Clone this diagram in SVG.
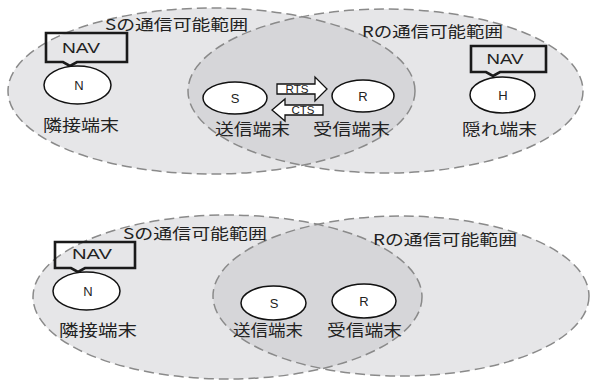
<svg xmlns="http://www.w3.org/2000/svg" width="591" height="381" viewBox="0 0 591 381">
<style>
.rng{fill:#e6e6e8;stroke:none}
.ovl{fill:#d6d6d9;stroke:none}
.dash{fill:none;stroke:#8a8a8a;stroke-width:1.5;stroke-dasharray:10 5}
.nd{fill:#fff;stroke:#111;stroke-width:1.5}
.nav{fill:none;stroke:#1a1a1a;stroke-width:2.6;stroke-linejoin:miter}
.arr{fill:#fff;stroke:#111;stroke-width:1.3}
.jp{font-family:"Noto Sans CJK JP","Noto Sans CJK SC",sans-serif;fill:#222}
.lt{font-family:"Liberation Sans",Arial,sans-serif;fill:#222;text-anchor:middle}
.rl{font-size:15px}
.nl{font-size:16px}
.ln{font-size:13px}
.nv{font-size:14px}
.sm{font-size:10.5px}
</style>
<defs>
<clipPath id="clipRt"><ellipse cx="385.5" cy="91" rx="197.5" ry="82"/></clipPath>
<clipPath id="clipRb"><ellipse cx="401" cy="296" rx="188" ry="80"/></clipPath>
</defs>

<!-- top diagram ranges -->
<g id="range-S-top">
<ellipse class="rng" cx="211.5" cy="91" rx="203.5" ry="83"/>
</g>
<g id="range-R-top">
<ellipse class="rng" cx="385.5" cy="91" rx="197.5" ry="82"/>
<ellipse class="ovl" cx="211.5" cy="91" rx="203.5" ry="83" clip-path="url(#clipRt)"/>
<ellipse class="dash" cx="211.5" cy="91" rx="203.5" ry="83"/>
<ellipse class="dash" cx="385.5" cy="91" rx="197.5" ry="82"/>
<text class="jp rl" x="105" y="30" textLength="143" lengthAdjust="spacingAndGlyphs">Sの通信可能範囲</text>
<text class="jp rl" x="362" y="37" textLength="141" lengthAdjust="spacingAndGlyphs">Rの通信可能範囲</text>
</g>

<!-- bottom diagram ranges -->
<g id="range-S-bottom">
<ellipse class="rng" cx="227.5" cy="297" rx="194.5" ry="82"/>
</g>
<g id="range-R-bottom">
<ellipse class="rng" cx="401" cy="296" rx="188" ry="80"/>
<ellipse class="ovl" cx="227.5" cy="297" rx="194.5" ry="82" clip-path="url(#clipRb)"/>
<ellipse class="dash" cx="227.5" cy="297" rx="194.5" ry="82"/>
<ellipse class="dash" cx="401" cy="296" rx="188" ry="80"/>
<text class="jp rl" x="123" y="239" textLength="144" lengthAdjust="spacingAndGlyphs">Sの通信可能範囲</text>
<text class="jp rl" x="373" y="245" textLength="144" lengthAdjust="spacingAndGlyphs">Rの通信可能範囲</text>
</g>

<!-- top nodes -->
<g id="node-N-top">
<path class="nav" d="M46,33 H127 V62 H77 L70,66 L63,62 H46 Z"/>
<text class="lt nv" x="81" y="53" textLength="38" lengthAdjust="spacingAndGlyphs">NAV</text>
<ellipse class="nd" cx="77.5" cy="85" rx="33.5" ry="19"/>
<text class="lt ln" x="79" y="90">N</text>
<text class="jp nl" x="43" y="131" textLength="76" lengthAdjust="spacingAndGlyphs">隣接端末</text>
</g>
<g id="node-S-top">
<ellipse class="nd" cx="235" cy="98" rx="32" ry="16"/>
<text class="lt ln" x="235" y="103">S</text>
<text class="jp nl" x="215" y="135" textLength="75" lengthAdjust="spacingAndGlyphs">送信端末</text>
</g>
<g id="node-R-top">
<ellipse class="nd" cx="363" cy="96" rx="31" ry="16"/>
<text class="lt ln" x="363" y="101">R</text>
<text class="jp nl" x="313" y="135" textLength="77" lengthAdjust="spacingAndGlyphs">受信端末</text>
</g>
<g id="node-H-top">
<path class="nav" d="M471,46 H546 V72 H500 L493,76 L486,72 H471 Z"/>
<text class="lt nv" x="505" y="64" textLength="37" lengthAdjust="spacingAndGlyphs">NAV</text>
<ellipse class="nd" cx="502.5" cy="95" rx="32.5" ry="18"/>
<text class="lt ln" x="503" y="100">H</text>
<text class="jp nl" x="462" y="135" textLength="75" lengthAdjust="spacingAndGlyphs">隠れ端末</text>
</g>

<!-- bottom nodes -->
<g id="node-N-bottom">
<path class="nav" d="M55,242 H135 V268 H85 L78,272 L71,268 H55 Z"/>
<text class="lt nv" x="92" y="259" textLength="40" lengthAdjust="spacingAndGlyphs">NAV</text>
<ellipse class="nd" cx="86.5" cy="291" rx="33.5" ry="19"/>
<text class="lt ln" x="88" y="296">N</text>
<text class="jp nl" x="59" y="336" textLength="78" lengthAdjust="spacingAndGlyphs">隣接端末</text>
</g>
<g id="node-S-bottom">
<ellipse class="nd" cx="273.5" cy="303" rx="32.5" ry="17"/>
<text class="lt ln" x="274" y="308">S</text>
<text class="jp nl" x="233" y="336" textLength="70" lengthAdjust="spacingAndGlyphs">送信端末</text>
</g>
<g id="node-R-bottom">
<ellipse class="nd" cx="364" cy="301" rx="32" ry="17"/>
<text class="lt ln" x="364" y="306">R</text>
<text class="jp nl" x="327" y="336" textLength="75" lengthAdjust="spacingAndGlyphs">受信端末</text>
</g>

<!-- connectors -->
<g id="connectors">
<path class="arr" d="M277,84 H315 V77 L327,89 L315,101 V94 H277 Z"/>
<text class="lt sm" x="297" y="92.8" textLength="23" lengthAdjust="spacingAndGlyphs">RTS</text>
<path class="arr" d="M323,105 H285 V99 L272,110 L285,121 V115 H323 Z"/>
<text class="lt sm" x="303" y="113.8" textLength="23" lengthAdjust="spacingAndGlyphs">CTS</text>
</g>
</svg>
